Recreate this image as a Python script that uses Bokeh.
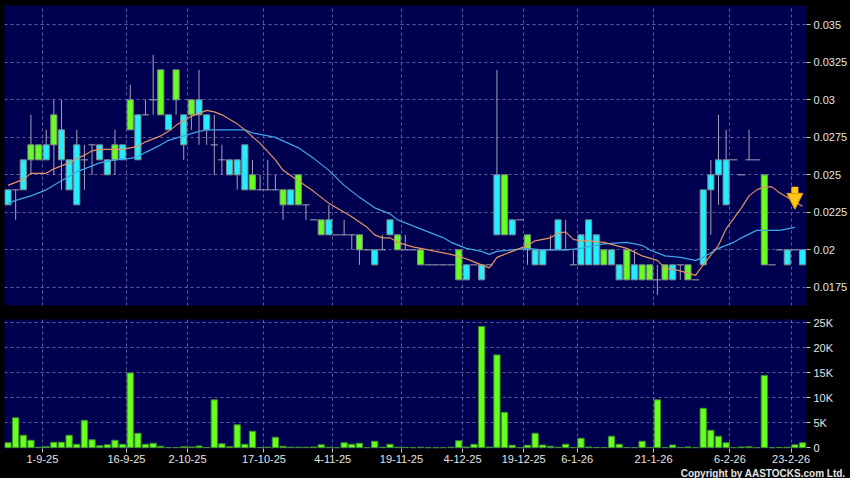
from bokeh.plotting import figure
from bokeh.layouts import column
from bokeh.models import (Range1d, FixedTicker, Grid, NumeralTickFormatter, Title,
                          Arrow, NormalHead, GlobalInlineStyleSheet)
from bokeh.embed import file_html
from bokeh.resources import INLINE

# ---------------- data ----------------
open_ = [0.023, 0.024, 0.024, 0.027, 0.027, 0.026, 0.029, 0.026, 0.024, 0.023,
         0.026, 0.027, 0.026, 0.025, 0.027, 0.026, 0.030, 0.026, 0.029, 0.030,
         0.032, 0.028, 0.032, 0.027, 0.030, 0.029, 0.028, 0.027, 0.026, 0.025,
         0.025, 0.024, 0.025, 0.024, 0.024, 0.024, 0.024, 0.023, 0.025, 0.023,
         0.022, 0.022, 0.021, 0.021, 0.021, 0.021, 0.021, 0.020, 0.019, 0.020,
         0.021, 0.021, 0.020, 0.020, 0.020, 0.019, 0.019, 0.019, 0.019, 0.020,
         0.018, 0.019, 0.018, 0.019, 0.021, 0.025, 0.021, 0.022, 0.021, 0.019,
         0.019, 0.020, 0.020, 0.020, 0.019, 0.019, 0.019, 0.019, 0.020, 0.019,
         0.018, 0.020, 0.018, 0.019, 0.019, 0.018, 0.019, 0.018, 0.019, 0.019,
         0.018, 0.019, 0.024, 0.025, 0.023, 0.026, 0.025, 0.026, 0.026, 0.025,
         0.019, 0.020, 0.019, 0.020, 0.019]
high = [0.024, 0.024, 0.026, 0.029, 0.027, 0.028, 0.030, 0.030, 0.026, 0.028,
        0.027, 0.027, 0.027, 0.026, 0.028, 0.027, 0.031, 0.029, 0.030, 0.033,
        0.032, 0.029, 0.032, 0.029, 0.030, 0.032, 0.029, 0.029, 0.027, 0.026,
        0.026, 0.027, 0.026, 0.025, 0.026, 0.025, 0.024, 0.024, 0.025, 0.023,
        0.022, 0.022, 0.023, 0.021, 0.022, 0.021, 0.021, 0.020, 0.020, 0.021,
        0.022, 0.021, 0.021, 0.020, 0.020, 0.019, 0.019, 0.019, 0.019, 0.020,
        0.019, 0.019, 0.019, 0.019, 0.032, 0.025, 0.022, 0.022, 0.021, 0.020,
        0.020, 0.021, 0.022, 0.022, 0.020, 0.021, 0.022, 0.021, 0.020, 0.020,
        0.019, 0.020, 0.020, 0.019, 0.019, 0.019, 0.019, 0.019, 0.019, 0.019,
        0.018, 0.024, 0.026, 0.029, 0.028, 0.026, 0.025, 0.028, 0.026, 0.025,
        0.019, 0.020, 0.020, 0.020, 0.020]
low = [0.023, 0.022, 0.024, 0.025, 0.026, 0.026, 0.025, 0.024, 0.024, 0.023,
       0.024, 0.025, 0.026, 0.025, 0.025, 0.026, 0.028, 0.026, 0.029, 0.029,
       0.029, 0.028, 0.029, 0.026, 0.028, 0.027, 0.027, 0.025, 0.025, 0.025,
       0.024, 0.024, 0.024, 0.024, 0.024, 0.024, 0.022, 0.023, 0.023, 0.022,
       0.022, 0.021, 0.021, 0.021, 0.021, 0.020, 0.019, 0.020, 0.019, 0.020,
       0.021, 0.020, 0.020, 0.020, 0.019, 0.019, 0.019, 0.019, 0.019, 0.018,
       0.018, 0.019, 0.018, 0.019, 0.021, 0.021, 0.021, 0.022, 0.019, 0.019,
       0.019, 0.020, 0.020, 0.020, 0.019, 0.019, 0.019, 0.019, 0.019, 0.019,
       0.018, 0.018, 0.018, 0.018, 0.018, 0.017, 0.018, 0.018, 0.018, 0.018,
       0.018, 0.019, 0.021, 0.023, 0.023, 0.026, 0.025, 0.026, 0.026, 0.019,
       0.019, 0.020, 0.019, 0.020, 0.019]
close = [0.024, 0.024, 0.026, 0.026, 0.026, 0.027, 0.027, 0.028, 0.026, 0.027,
         0.026, 0.027, 0.027, 0.026, 0.026, 0.027, 0.028, 0.029, 0.029, 0.030,
         0.029, 0.029, 0.030, 0.029, 0.029, 0.030, 0.029, 0.027, 0.026, 0.026,
         0.026, 0.027, 0.024, 0.024, 0.024, 0.024, 0.023, 0.024, 0.023, 0.023,
         0.022, 0.021, 0.022, 0.021, 0.021, 0.021, 0.020, 0.020, 0.020, 0.020,
         0.022, 0.020, 0.020, 0.020, 0.019, 0.019, 0.019, 0.019, 0.019, 0.018,
         0.019, 0.019, 0.019, 0.019, 0.025, 0.021, 0.022, 0.022, 0.020, 0.020,
         0.020, 0.020, 0.022, 0.020, 0.019, 0.021, 0.022, 0.021, 0.019, 0.020,
         0.019, 0.018, 0.019, 0.018, 0.018, 0.018, 0.018, 0.019, 0.019, 0.018,
         0.018, 0.024, 0.025, 0.026, 0.026, 0.026, 0.025, 0.026, 0.026, 0.019,
         0.019, 0.020, 0.020, 0.020, 0.020]
volume_k = [1.0, 6.0, 2.5, 1.5, 0.1, 0.2, 1.1, 1.1, 2.5, 0.7,
            5.5, 1.6, 0.4, 0.6, 1.5, 0.7, 15.0, 2.9, 0.7, 0.9,
            0.3, 0.05, 0.05, 0.2, 0.15, 0.35, 0.05, 9.6, 0.8, 0.2,
            4.6, 0.7, 3.3, 0.05, 0.1, 2.1, 0.3, 0.1, 0.1, 0.1,
            0.15, 0.6, 0.1, 0.0, 1.0, 0.7, 0.9, 0.0, 1.3, 0.1,
            0.7, 0.1, 0.05, 0.0, 0.1, 0.0, 0.0, 0.0, 0.1, 1.4,
            0.15, 0.7, 24.3, 0.15, 18.6, 7.1, 0.5, 0.0, 0.5, 2.9,
            0.55, 0.3, 0.1, 0.7, 0.05, 1.9, 0.15, 0.05, 0.05, 2.3,
            0.7, 0.05, 0.05, 1.3, 0.05, 9.6, 0.05, 0.55, 0.05, 0.15,
            0.0, 7.9, 3.5, 2.3, 1.0, 0.0, 0.15, 0.2, 0.0, 14.5,
            0.0, 0.05, 0.1, 0.6, 1.0]

# moving averages (at the listed bar indices)
ma_short_x = [0, 2, 3, 5, 6, 7, 8, 9, 10, 11, 12, 15, 16, 17, 18, 19, 20, 21, 22, 24,
              25, 26, 27, 28, 30, 31, 33, 35, 36, 38, 40, 42, 43, 45, 47, 48, 49, 50, 51, 53,
              55, 57, 58, 60, 61, 62, 63, 64, 66, 68, 69, 71, 72, 73, 74, 75, 76, 78, 81, 83,
              85, 86, 88, 90, 91, 93, 94, 96, 97, 98, 99, 100, 101, 103, 104]
ma_short_y = [0.0243, 0.0247, 0.0251, 0.0251, 0.0254, 0.0256, 0.0258, 0.0261, 0.0263, 0.0266,
              0.0267, 0.0267, 0.0268, 0.0269, 0.0272, 0.0274, 0.0276, 0.0279, 0.0283, 0.0289,
              0.0291, 0.0293, 0.0292, 0.0290, 0.0284, 0.0280, 0.0271, 0.0260, 0.0253, 0.0246,
              0.0239, 0.0231, 0.0228, 0.0222, 0.0215, 0.0210, 0.0208, 0.0208, 0.0205, 0.0202,
              0.0200, 0.0198, 0.0197, 0.0194, 0.0192, 0.0190, 0.0188, 0.0195, 0.0199, 0.0203,
              0.0206, 0.0208, 0.0211, 0.0212, 0.0207, 0.0206, 0.0206, 0.0205, 0.0201, 0.0196,
              0.0193, 0.0188, 0.0186, 0.0183, 0.0190, 0.0203, 0.0214, 0.0228, 0.0236, 0.0240,
              0.0242, 0.0242, 0.0238, 0.0232, 0.0229]
ma_long_x = [0, 1, 3, 5, 6, 8, 9, 10, 12, 14, 16, 17, 18, 20, 21, 23, 25, 26, 29, 31,
             32, 35, 38, 40, 42, 44, 46, 48, 50, 51, 54, 57, 58, 60, 61, 62, 63, 64, 66, 68,
             70, 71, 73, 75, 76, 78, 81, 83, 84, 86, 88, 90, 91, 93, 95, 96, 98, 99, 101, 102,
             103]
ma_long_y = [0.0231, 0.0233, 0.0236, 0.0240, 0.0243, 0.0249, 0.0252, 0.0254, 0.0258, 0.0260,
             0.0261, 0.0262, 0.0265, 0.0270, 0.0273, 0.0276, 0.0279, 0.0280, 0.0280, 0.0280,
             0.0278, 0.0275, 0.0268, 0.0261, 0.0253, 0.0243, 0.0235, 0.0228, 0.0224, 0.0220,
             0.0214, 0.0208, 0.0205, 0.0201, 0.0200, 0.0199, 0.0197, 0.0199, 0.0200, 0.0201,
             0.0200, 0.0200, 0.0200, 0.0201, 0.0202, 0.0204, 0.0205, 0.0203, 0.0200, 0.0196,
             0.0195, 0.0193, 0.0195, 0.0201, 0.0205, 0.0208, 0.0213, 0.0213, 0.0213, 0.0214,
             0.0215]

# date ticks: bar index at which each labelled date starts
date_tick_index = [5, 16, 24, 34, 43, 52, 60, 68, 75, 85, 95, 103]
date_tick_labels = ["1-9-25", "16-9-25", "2-10-25", "17-10-25", "4-11-25", "19-11-25",
                    "4-12-25", "19-12-25", "6-1-26", "21-1-26", "6-2-26", "23-2-26"]
price_ticks = [0.0175, 0.02, 0.0225, 0.025, 0.0275, 0.03, 0.0325, 0.035]
volume_ticks = [0, 5, 10, 15, 20, 25]
volume_tick_labels = ["0", "5K", "10K", "15K", "20K", "25K"]
signal_arrow = [0.0242, 0.0227]   # top / tip of the yellow down-arrow

# ---------------- styling ----------------
NAVY = "#000050"
GRID = "#5E5E96"
GREEN = "#66FF1E"
CYAN = "#22EEFF"
OUTLINE = "#7E8C8C"
WICK = "#A4A4B8"
TXT = "#E4E4E4"
FONT = "Liberation Sans"

n = len(close)
idx = list(range(n))
tick_pos = [k - 0.5 for k in date_tick_index]

xr = Range1d(-0.46, 104.52)


def style_axis(ax):
    ax.axis_line_color = None
    ax.major_tick_line_color = "#C8C8C8"
    ax.major_tick_out = 4
    ax.major_tick_in = 0
    ax.minor_tick_line_color = None
    ax.major_label_text_color = TXT
    ax.major_label_text_font = FONT
    ax.major_label_text_font_size = "11px"
    ax.major_label_standoff = 3


# ---------------- price panel ----------------
p = figure(width=850, height=312, x_range=xr, y_range=Range1d(0.01629, 0.03629),
           output_backend="svg", toolbar_location=None,
           x_axis_location=None, y_axis_location="right",
           min_border_left=4, min_border_right=44, min_border_top=5, min_border_bottom=7,
           background_fill_color=NAVY, border_fill_color="black", outline_line_color=None)

for g in p.xgrid:
    g.visible = False
p.yaxis.ticker = FixedTicker(ticks=price_ticks)
p.yaxis.formatter = NumeralTickFormatter(format="0.[0000]")
style_axis(p.yaxis[0])
p.ygrid.ticker = FixedTicker(ticks=price_ticks)
p.ygrid.grid_line_color = GRID
p.ygrid.grid_line_dash = "3 3"
p.add_layout(Grid(dimension=0, ticker=FixedTicker(ticks=tick_pos),
                  grid_line_color=GRID, grid_line_dash="3 3"))

# wicks
p.segment(x0=idx, y0=low, x1=idx, y1=high, line_color=WICK, line_width=1)

# bodies
up_i = [i for i in idx if close[i] > open_[i]]
dn_i = [i for i in idx if close[i] < open_[i]]
eq_i = [i for i in idx if close[i] == open_[i]]
p.vbar(x=up_i, width=0.8, bottom=[open_[i] for i in up_i], top=[close[i] for i in up_i],
       fill_color=CYAN, line_color=OUTLINE, line_width=1)
p.vbar(x=dn_i, width=0.8, bottom=[close[i] for i in dn_i], top=[open_[i] for i in dn_i],
       fill_color=GREEN, line_color=OUTLINE, line_width=1)
p.segment(x0=[i - 0.48 for i in eq_i], y0=[open_[i] for i in eq_i],
          x1=[i + 0.48 for i in eq_i], y1=[open_[i] for i in eq_i],
          line_color=WICK, line_width=1)

# moving averages
p.line(ma_long_x, ma_long_y, line_color="#3FA6E6", line_width=1.2)
p.line(ma_short_x, ma_short_y, line_color="#E39262", line_width=1.2)

# yellow arrow over the latest bars
p.add_layout(Arrow(end=NormalHead(size=16, fill_color="#FFC414", line_color="#E09A00", line_width=1),
                   x_start=n - 2, y_start=signal_arrow[0], x_end=n - 2, y_end=signal_arrow[1],
                   line_color="#FFC414", line_width=7))

# ---------------- volume panel ----------------
pv = figure(width=850, height=166, x_range=xr, y_range=Range1d(-0.15, 25.7),
            output_backend="svg", toolbar_location=None,
            x_axis_location="below", y_axis_location="right",
            min_border_left=4, min_border_right=44, min_border_top=7, min_border_bottom=20,
            background_fill_color=NAVY, border_fill_color="black", outline_line_color=None)

pv.yaxis.ticker = FixedTicker(ticks=volume_ticks)
pv.yaxis.major_label_overrides = {t: lab for t, lab in zip(volume_ticks, volume_tick_labels)}
style_axis(pv.yaxis[0])
pv.xaxis.ticker = FixedTicker(ticks=tick_pos)
pv.xaxis.major_label_overrides = {t: lab for t, lab in zip(tick_pos, date_tick_labels)}
style_axis(pv.xaxis[0])
pv.xaxis.major_label_standoff = 2
pv.ygrid.ticker = FixedTicker(ticks=volume_ticks[1:])
pv.ygrid.grid_line_color = GRID
pv.ygrid.grid_line_dash = "3 3"
pv.xgrid.grid_line_color = GRID
pv.xgrid.grid_line_dash = "3 3"

pv.vbar(x=idx, width=0.82, bottom=0, top=volume_k, fill_color=GREEN,
        line_color="#3E8E2A", line_width=1)

pv.add_layout(Title(text="Copyright by AASTOCKS.com Ltd.", align="right",
                    text_color=TXT, text_font=FONT, text_font_size="10px",
                    text_font_style="bold", standoff=0, offset=-39), "below")

layout = column(p, pv, spacing=0)
layout.stylesheets = [GlobalInlineStyleSheet(
    css="html, body { margin: 0 !important; padding: 0; background: #000; overflow: hidden; }")]

open("out.html", "w").write(file_html(layout, INLINE))
